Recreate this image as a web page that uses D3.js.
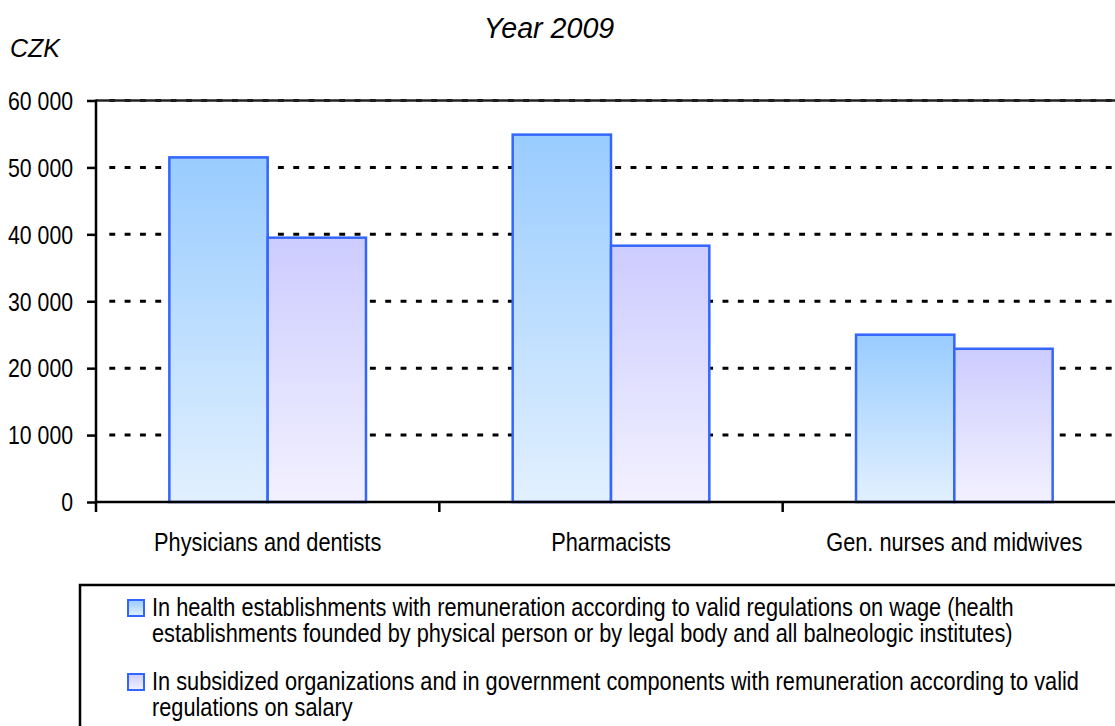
<!DOCTYPE html>
<html>
<head>
<meta charset="utf-8">
<script src="https://cdn.jsdelivr.net/npm/d3@7"></script>
<style>
  body { margin: 0; background: #fff; }
  text { font-family: "Liberation Sans", Arial, sans-serif; fill: #000; }
</style>
</head>
<body>
<div id="chart"></div>
<script>
// data
const categories = ["Physicians and dentists", "Pharmacists", "Gen. nurses and midwives"];
const seriesKeys = ["wage", "salary"];
const wageValues = [51500, 54900, 25000];
const salaryValues = [39500, 38300, 22900];
const yTicks = [0, 10000, 20000, 30000, 40000, 50000, 60000];
const legendLines = [
  ["In health establishments with remuneration according to valid regulations on wage (health",
   "establishments founded by physical person or by legal body and all balneologic institutes)"],
  ["In subsidized organizations and in government components with remuneration according to valid",
   "regulations on salary"]
];

const W = 1115, H = 726;
const plotLeft = 96, plotRight = 1126, plotTop = 100.5, plotBottom = 502;
// text in the picture is a condensed face, so squeeze it sideways
const narrowTick = 0.85;
const narrowText = 0.87;

const svg = d3.select("#chart").append("svg")
  .attr("width", W).attr("height", H);

// gradients
const defs = svg.append("defs");
function grad(id, c0, c1) {
  const g = defs.append("linearGradient").attr("id", id)
    .attr("x1", 0).attr("y1", 0).attr("x2", 0).attr("y2", 1);
  g.append("stop").attr("offset", "0%").attr("stop-color", c0);
  g.append("stop").attr("offset", "100%").attr("stop-color", c1);
}
grad("g-wage", "#99ccff", "#e2f0ff");
grad("g-salary", "#ccccff", "#f3f1ff");
const fills = { wage: "url(#g-wage)", salary: "url(#g-salary)" };

// scales
const x0 = d3.scaleBand().domain(categories).range([plotLeft, plotRight]).padding(0);
const x1 = d3.scaleBand().domain(seriesKeys).range([0, x0.bandwidth()])
  .paddingInner(0).paddingOuter(0.746);
const y = d3.scaleLinear().domain([0, 60000]).range([plotBottom, plotTop]);

const fmt = d3.formatLocale({ decimal: ".", thousands: " ", grouping: [3], currency: ["", ""] }).format(",");

// title + unit
svg.append("text").attr("x", 549).attr("y", 38.3)
  .attr("text-anchor", "middle").style("font-size", "28.6px").style("font-style", "italic")
  .text("Year 2009");
svg.append("text").attr("x", 10).attr("y", 57.3)
  .style("font-size", "25px").style("font-style", "italic")
  .text("CZK");

// gridlines
const grid = svg.append("g");
grid.selectAll("line.dash")
  .data(yTicks.filter(d => d > 0))
  .join("line")
  .attr("x1", 109.3).attr("x2", W)
  .attr("y1", d => y(d)).attr("y2", d => y(d))
  .attr("stroke", "#000").attr("stroke-width", 3)
  .attr("stroke-dasharray", "5.9 9.43");
grid.append("line")
  .attr("x1", plotLeft).attr("x2", W)
  .attr("y1", y(60000)).attr("y2", y(60000))
  .attr("stroke", "#222").attr("stroke-width", 2.5);

// bars
const rows = categories.map((c, i) => ({ cat: c, wage: wageValues[i], salary: salaryValues[i] }));
svg.append("g")
  .selectAll("g")
  .data(rows)
  .join("g")
  .attr("transform", d => `translate(${x0(d.cat)},0)`)
  .selectAll("rect")
  .data(d => seriesKeys.map(k => ({ key: k, value: d[k] })))
  .join("rect")
  .attr("x", d => x1(d.key))
  .attr("width", x1.bandwidth())
  .attr("y", d => y(d.value))
  .attr("height", d => y(0) - y(d.value))
  .attr("fill", d => fills[d.key])
  .attr("stroke", "#3366ff").attr("stroke-width", 2.5);

// y axis
const yAxis = svg.append("g")
  .attr("transform", `translate(${plotLeft},0)`)
  .call(d3.axisLeft(y).tickValues(yTicks).tickFormat(fmt).tickSize(9).tickSizeOuter(0));
yAxis.select(".domain").remove();
yAxis.selectAll(".tick line").attr("stroke", "#000").attr("stroke-width", 2.5);
yAxis.selectAll(".tick text")
  .attr("x", 0).attr("dy", "0.35em")
  .attr("transform", `translate(-23,0) scale(${narrowTick},1)`)
  .style("font-size", "25px");
yAxis.append("line")
  .attr("x1", 0).attr("x2", 0).attr("y1", plotTop - 1).attr("y2", plotBottom + 10)
  .attr("stroke", "#000").attr("stroke-width", 2.5);

// x axis
const xAxis = svg.append("g")
  .attr("transform", `translate(0,${plotBottom})`)
  .call(d3.axisBottom(x0).tickSize(0).tickSizeOuter(0).tickPadding(31));
xAxis.select(".domain").attr("stroke", "#000").attr("stroke-width", 2.5)
  .attr("d", `M${plotLeft},0H${W}`);
xAxis.selectAll(".tick text")
  .attr("transform", `scale(${narrowText},1)`)
  .style("font-size", "25px");
xAxis.selectAll("line.sep")
  .data(categories.slice(1))
  .join("line")
  .attr("class", "sep")
  .attr("x1", d => x0(d)).attr("x2", d => x0(d))
  .attr("y1", 0).attr("y2", 10)
  .attr("stroke", "#000").attr("stroke-width", 2.5);

// legend
const legend = svg.append("g");
legend.append("rect")
  .attr("x", 80).attr("y", 585).attr("width", W).attr("height", 200)
  .attr("fill", "none").attr("stroke", "#000").attr("stroke-width", 2.5);
const legendY = [600, 674];
seriesKeys.forEach((k, i) => {
  legend.append("rect")
    .attr("x", 128).attr("y", legendY[i]).attr("width", 16).attr("height", 16)
    .attr("fill", fills[k]).attr("stroke", "#3366ff").attr("stroke-width", 2);
  legendLines[i].forEach((line, j) => {
    legend.append("g")
      .attr("transform", `translate(152,${legendY[i] + 16 + j * 26}) scale(${narrowText},1)`)
      .append("text")
      .style("font-size", "25px")
      .text(line);
  });
});
</script>
</body>
</html>
